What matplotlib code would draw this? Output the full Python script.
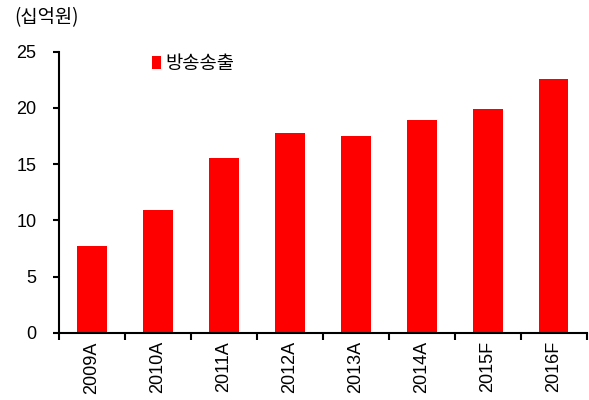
import numpy as np
import matplotlib.pyplot as plt

# data
years = ['2009A', '2010A', '2011A', '2012A', '2013A', '2014A', '2015F', '2016F']
broadcast = [7.7, 10.9, 15.5, 17.8, 17.5, 18.9, 19.9, 22.6]

plt.rcParams['font.family'] = ['Liberation Sans', 'Noto Sans CJK KR', 'DejaVu Sans']

fig = plt.figure(figsize=(5.89, 4.0), dpi=100)
ax = fig.add_axes([0.0997, 0.168, 0.8963, 0.703])

x = np.arange(len(years))
ax.bar(x, broadcast, width=0.45, color='#ff0000', label='방송송출')

ax.set_xlim(-0.5, len(years) - 0.5)
ax.set_ylim(0, 25)
ax.set_yticks([0, 5, 10, 15, 20, 25])

# ticks at category boundaries, labels at centres
ax.set_xticks(np.arange(len(years) + 1) - 0.5)
ax.set_xticklabels([])
ax.set_xticks(x, minor=True)
ax.set_xticklabels(years, minor=True, rotation=90, fontsize=13)
ax.tick_params(axis='x', which='minor', length=0, pad=6)
ax.tick_params(axis='x', which='major', length=5, width=1.5, direction='out')
ax.tick_params(axis='y', length=4, width=1.5, direction='out', labelsize=13, pad=12)

for side in ['top', 'right']:
    ax.spines[side].set_visible(False)
for side in ['left', 'bottom']:
    ax.spines[side].set_linewidth(1.5)

ax.legend(loc='upper left', bbox_to_anchor=(0.145, 1.055), frameon=False,
          handlelength=0.45, handleheight=0.7, handletextpad=0.25,
          prop={'family': ['Noto Sans CJK KR'], 'size': 13.5})

fig.text(0.025, 0.955, '(십억원)', fontsize=13.5, family=['Noto Sans CJK KR'], va='center')

fig.savefig('out.png', dpi=100)
